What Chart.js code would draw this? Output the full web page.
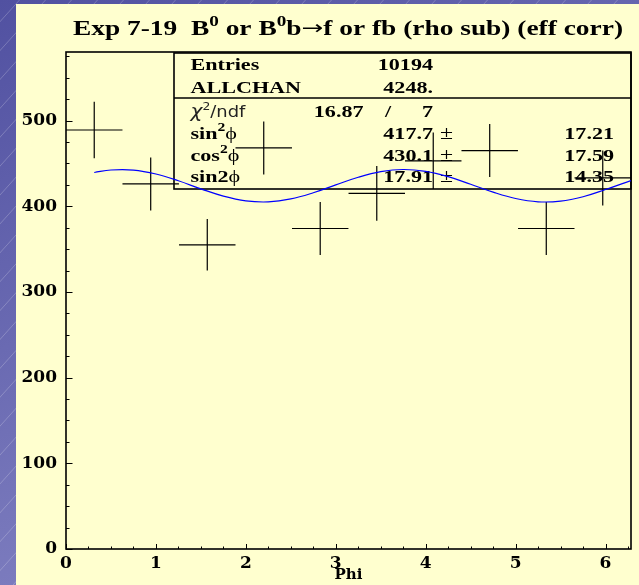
<!DOCTYPE html>
<html>
<head>
<meta charset="utf-8">
<script src="https://cdn.jsdelivr.net/npm/chart.js@4.4.1/dist/chart.umd.min.js"></script>
<style>
html, body { margin: 0; padding: 0; background: #ffffcf; }
canvas { display: block; }
</style>
</head>
<body>
<canvas id="miGrafico" width="639" height="585"></canvas>
<script>
// Histogram bins in Phi (centres), contents and errors
var phiCentres = [0.314, 0.942, 1.571, 2.199, 2.827, 3.456, 4.084, 4.712, 5.341, 5.969];
var binHalfWidth = 0.314;
var binContents = [489, 426, 355, 468, 374, 415, 453, 465, 374, 433];
var binErrors = [33, 31, 30, 31, 31, 32, 33, 31, 31, 32];

// Fitted curve, sampled off the plot
var fitPhi = [0.314, 0.5, 0.75, 1.0, 1.25, 1.5, 1.75, 2.0, 2.25, 2.5, 2.75, 3.0, 3.25,
              3.5, 3.75, 4.0, 4.25, 4.5, 4.75, 5.0, 5.25, 5.5, 5.75, 6.0, 6.283];
var fitValues = [439.4, 442.3, 442.2, 437.6, 429.7, 420.3, 411.8, 406.3, 405.1, 408.5, 415.7, 424.9, 433.8,
                 440.3, 442.9, 440.7, 434.5, 425.6, 416.4, 409.0, 405.2, 406.0, 411.1, 419.5, 430.0];

// Axis ticks
var xTickLabels = [0, 1, 2, 3, 4, 5, 6];
var yTickLabels = [0, 100, 200, 300, 400, 500];

// Stats box
var statNames = ['Entries', 'ALLCHAN'];
var statValues = ['10194', '4248.'];
var chi2 = '16.87';
var ndf = '7';
var parNames = ['sin', 'cos', 'sin2'];
var parSups = ['2', '2', ''];
var parValues = ['417.7', '430.1', '17.91'];
var parErrors = ['17.21', '17.59', '14.35'];

var SERIF = "'Liberation Serif', 'Times New Roman', serif";
var TICKFONT = "'DejaVu Serif', serif";

// crosses: horizontal = bin width, vertical = error
var crossData = [];
for (var i = 0; i < phiCentres.length; i++) {
    var c = phiCentres[i], v = binContents[i], e = binErrors[i];
    crossData.push({x: c - binHalfWidth, y: v}, {x: c + binHalfWidth, y: v}, {x: c, y: null});
    crossData.push({x: c, y: v - e}, {x: c, y: v + e}, {x: c, y: null});
}
var fitData = fitPhi.map(function (p, k) { return {x: p, y: fitValues[k]}; });

// draws a row of text pieces, stretched horizontally by sx
function drawRich(g, parts, x, y, align, sx) {
    var w = 0;
    parts.forEach(function (p) { g.font = p.font; p.w = g.measureText(p.t).width; w += p.w; });
    if (sx === undefined) sx = 1;
    g.save();
    g.translate(x, y);
    g.scale(sx, 1);
    var cx = align === 'right' ? -w : (align === 'center' ? -w / 2 : 0);
    g.textAlign = 'left';
    g.textBaseline = 'alphabetic';
    parts.forEach(function (p) {
        g.font = p.font;
        g.fillStyle = p.color || '#000';
        g.fillText(p.t, cx, p.dy || 0);
        cx += p.w;
    });
    g.restore();
    return w;
}

var rootStyle = {
    id: 'rootStyle',
    beforeDraw: function (chart) {
        var g = chart.ctx, W = chart.width, H = chart.height;
        g.save();
        var grad = g.createLinearGradient(0, 0, 260, H);
        grad.addColorStop(0, '#5151a1');
        grad.addColorStop(1, '#8383c3');
        g.fillStyle = grad;
        g.fillRect(0, 0, W, H);
        g.strokeStyle = 'rgba(255,255,255,0.28)';
        g.lineWidth = 0.8;
        g.beginPath();
        for (var k = -H; k < W + H; k += 26) {
            g.moveTo(k, H);
            g.lineTo(k + H * 0.9, 0);
        }
        g.stroke();
        g.fillStyle = '#ffffcf';
        g.fillRect(16, 4, W - 16, H - 4);
        g.restore();
    },
    beforeDatasetsDraw: function (chart) {
        var g = chart.ctx, a = chart.chartArea;
        var xs = chart.scales.x, ys = chart.scales.y;
        g.save();
        g.strokeStyle = '#000';
        // inner ticks
        g.lineWidth = 1;
        g.beginPath();
        for (var t = 0; t <= 6.25 + 1e-6; t += 0.25) {
            var px = Math.round(xs.getPixelForValue(t)) + 0.5;
            var len = Math.abs(t - Math.round(t)) < 1e-6 ? 5 : 2.5;
            g.moveTo(px, a.bottom);
            g.lineTo(px, a.bottom - len);
        }
        for (var u = 0; u <= 575; u += 25) {
            var py = Math.round(ys.getPixelForValue(u)) + 0.5;
            var ylen = u % 100 === 0 ? 6.5 : 3.5;
            g.moveTo(a.left, py);
            g.lineTo(a.left + ylen, py);
        }
        g.stroke();
        // frame
        g.lineWidth = 1.6;
        g.strokeRect(a.left, a.top, a.right - a.left, a.bottom - a.top);

        // stats box
        var bl = 174, bt = a.top + 1, br = a.right, bb = 189, bd = 98;
        g.lineWidth = 1.6;
        g.strokeRect(bl, bt, br - bl, bb - bt);
        g.beginPath();
        g.moveTo(bl, bd);
        g.lineTo(br, bd);
        g.stroke();

        var bold = 'bold 17px ' + SERIF;
        var boldSup = 'bold 12px ' + SERIF;
        var plain = '17px ' + SERIF;
        var sx = 1.3;
        var rows = [70, 93, 116.5, 139, 160.5, 182];
        var labelX = 190.5, valR = 433, errR = 614;
        for (var r = 0; r < statNames.length; r++) {
            drawRich(g, [{t: statNames[r], font: bold}], labelX, rows[r], 'left', sx);
            drawRich(g, [{t: statValues[r], font: bold}], valR, rows[r], 'right', sx);
        }
        // chi2 / ndf row
        var sans = "16px 'DejaVu Sans', sans-serif";
        drawRich(g, [
            {t: '\u03c7', font: "italic 18px 'DejaVu Sans', sans-serif", color: '#222'},
            {t: '2', font: "11px 'DejaVu Sans', sans-serif", dy: -7, color: '#222'},
            {t: '/ndf', font: sans, color: '#222'}
        ], labelX, rows[2], 'left', 1.12);
        drawRich(g, [{t: chi2, font: bold}], 363.5, rows[2], 'right', sx);
        drawRich(g, [{t: '/', font: bold}], 388, rows[2], 'center', sx);
        drawRich(g, [{t: ndf, font: bold}], valR, rows[2], 'right', sx);
        // fit parameters
        for (var p = 0; p < parNames.length; p++) {
            var ry = rows[3 + p];
            var nameParts = [{t: parNames[p], font: bold}];
            if (parSups[p]) nameParts.push({t: parSups[p], font: boldSup, dy: -8});
            nameParts.push({t: '\u03d5', font: plain});
            drawRich(g, nameParts, labelX, ry, 'left', sx);
            drawRich(g, [{t: parValues[p], font: bold}], valR, ry, 'right', sx);
            drawRich(g, [{t: '\u00b1', font: '19px ' + SERIF}], 440, ry, 'left', 1.25);
            drawRich(g, [{t: parErrors[p], font: bold}], errR, ry, 'right', sx);
        }

        // title, stretched to the width seen in the plot
        var tf = 'bold 20px ' + SERIF, ts = 'bold 14px ' + SERIF;
        var titleParts = [
            {t: 'Exp 7-19  B', font: tf}, {t: '0', font: ts, dy: -9},
            {t: ' or B', font: tf}, {t: '0', font: ts, dy: -9},
            {t: 'b', font: tf}, {t: '\u2192', font: "19px 'DejaVu Sans', sans-serif", dy: -1},
            {t: 'f or fb (rho sub) (eff corr)', font: tf}
        ];
        var tw = 0;
        titleParts.forEach(function (q) { g.font = q.font; tw += g.measureText(q.t).width; });
        drawRich(g, titleParts, 348, 34.5, 'center', 550 / tw);
        g.restore();
    }
};

var ctx = document.getElementById('miGrafico').getContext('2d');

var miGrafico = new Chart(ctx, {
    type: 'scatter',
    data: {
        datasets: [{
            label: 'fit',
            data: fitData,
            showLine: true,
            borderColor: '#0000ff',
            borderWidth: 1.2,
            pointRadius: 0,
            tension: 0.4
        }, {
            label: 'Phi',
            data: crossData,
            showLine: true,
            spanGaps: false,
            borderColor: '#000000',
            borderWidth: 1.2,
            pointRadius: 0,
            tension: 0
        }]
    },
    options: {
        responsive: false,
        animation: false,
        devicePixelRatio: 1,
        layout: { padding: { top: 52, right: 8, left: 0, bottom: 0 } },
        plugins: {
            legend: { display: false },
            tooltip: { enabled: false }
        },
        scales: {
            x: {
                type: 'linear',
                min: 0,
                max: 6.2832,
                afterBuildTicks: function (s) { s.ticks = xTickLabels.map(function (v) { return {value: v}; }); },
                afterFit: function (s) { s.height = 36; },
                grid: { display: false, drawTicks: false },
                border: { display: false },
                ticks: {
                    color: '#000',
                    padding: 4,
                    maxRotation: 0,
                    autoSkip: false,
                    font: { family: TICKFONT, size: 17, weight: 'bold' }
                },
                title: {
                    display: true,
                    text: 'Phi',
                    color: '#000',
                    padding: { top: 0, bottom: 1 },
                    font: { family: TICKFONT, size: 15, weight: 'bold' }
                }
            },
            y: {
                type: 'linear',
                min: 0,
                max: 580,
                afterBuildTicks: function (s) { s.ticks = yTickLabels.map(function (v) { return {value: v}; }); },
                afterFit: function (s) { s.width = 66; },
                grid: { display: false, drawTicks: false },
                border: { display: false },
                ticks: {
                    color: '#000',
                    padding: 9,
                    autoSkip: false,
                    font: { family: TICKFONT, size: 17, weight: 'bold' }
                }
            }
        }
    },
    plugins: [rootStyle]
});
</script>
</body>
</html>
